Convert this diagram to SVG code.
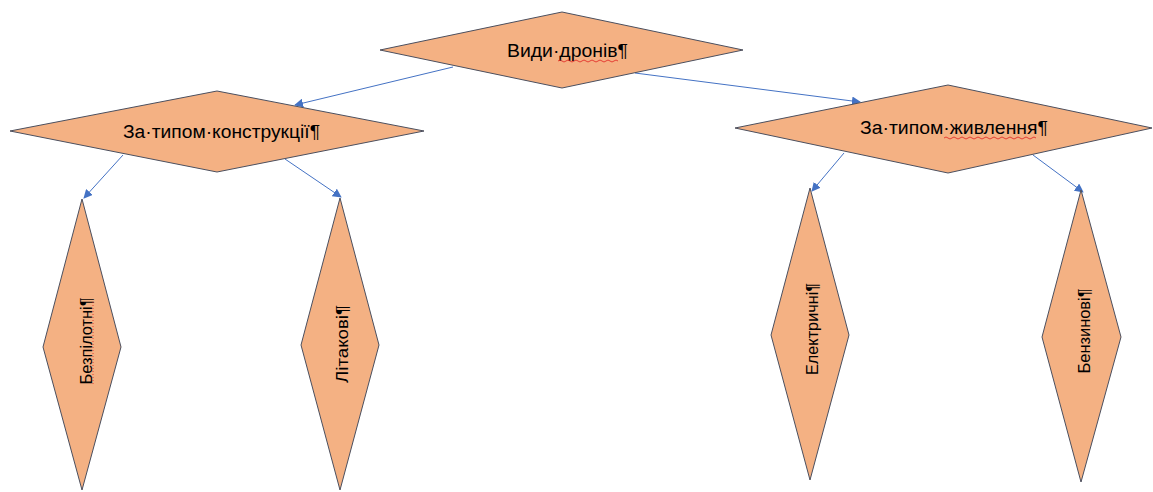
<svg xmlns="http://www.w3.org/2000/svg" width="1153" height="492" viewBox="0 0 1153 492">
<defs>
<style>
.shape{fill:#F4B183;stroke:#4b4f5e;stroke-width:1}
.lbl{font-family:"Liberation Sans","Noto Sans",Arial,sans-serif;font-size:18px;fill:#000;text-anchor:middle}
.vlbl{font-family:"Liberation Sans","Noto Sans",Arial,sans-serif;font-size:17px;fill:#000;text-anchor:middle}
.conn{stroke:#4472C4;stroke-width:1;fill:none;marker-end:url(#arr)}
.squig{stroke:#e02020;stroke-width:0.8;fill:none}
</style>
<marker id="arr" viewBox="0 0 10 10" refX="9" refY="5" markerWidth="9" markerHeight="9" markerUnits="userSpaceOnUse" orient="auto">
<path d="M0,0 L10,5 L0,10 z" fill="#4472C4"/>
</marker>
</defs>
<rect width="1153" height="492" fill="#fff"/>
<g id="connectors">
<line class="conn" x1="453" y1="67" x2="295" y2="105"/>
<line class="conn" x1="635" y1="73" x2="860" y2="102"/>
<line class="conn" x1="123" y1="155" x2="84" y2="198"/>
<line class="conn" x1="285" y1="159" x2="341" y2="197"/>
<line class="conn" x1="844" y1="153" x2="812" y2="191"/>
<line class="conn" x1="1033" y1="155" x2="1083" y2="192"/>
</g>
<g id="node-root">
<polygon class="shape" points="562,12 743,50 562,88 380,50"/>
<text class="lbl" x="567.5" y="57" textLength="121" lengthAdjust="spacingAndGlyphs">Види·дронів¶</text>
<path class="squig" d="M558,61 q2,-2 4,0 t4,0 t4,0 t4,0 t4,0 t4,0 t4,0 t4,0 t4,0 t4,0 t4,0 t4,0 t4,0 t4,0 t4,0"/>
</g>
<g id="node-construction">
<polygon class="shape" points="217,91 424,131 217,172 10,131"/>
<text class="lbl" x="221.5" y="138" textLength="197" lengthAdjust="spacingAndGlyphs">За·типом·конструкції¶</text>
</g>
<g id="node-power">
<polygon class="shape" points="948,85 1152,128 948,173 735,128"/>
<text class="lbl" x="954" y="134" textLength="188" lengthAdjust="spacingAndGlyphs">За·типом·живлення¶</text>
<path class="squig" d="M944,138 q2,-2 4,0 t4,0 t4,0 t4,0 t4,0 t4,0 t4,0 t4,0 t4,0 t4,0 t4,0 t4,0 t4,0 t4,0 t4,0 t4,0 t4,0 t4,0 t4,0 t4,0 t4,0 t4,0 t4,0"/>
</g>
<g id="node-unmanned">
<polygon class="shape" points="82,199 121,347 82,490 43,347"/>
<text class="vlbl" transform="translate(92,341) rotate(-90)" x="0" y="0" textLength="87" lengthAdjust="spacingAndGlyphs">Безпілотні¶</text>
<line x1="93" y1="384" x2="93" y2="300" stroke="#e02020" stroke-width="0.8" stroke-dasharray="1,2"/>
</g>
<g id="node-aircraft">
<polygon class="shape" points="340,198 379,345 340,490 301,345"/>
<text class="vlbl" transform="translate(348,344) rotate(-90)" x="0" y="0" textLength="78" lengthAdjust="spacingAndGlyphs">Літакові¶</text>
</g>
<g id="node-electric">
<polygon class="shape" points="810,188 849,335 810,480 771,335"/>
<text class="vlbl" transform="translate(818,329) rotate(-90)" x="0" y="0" textLength="92" lengthAdjust="spacingAndGlyphs">Електричні¶</text>
</g>
<g id="node-petrol">
<polygon class="shape" points="1081,190 1121,337 1081,482 1042,337"/>
<text class="vlbl" transform="translate(1090,331) rotate(-90)" x="0" y="0" textLength="85" lengthAdjust="spacingAndGlyphs">Бензинові¶</text>
</g>
</svg>
